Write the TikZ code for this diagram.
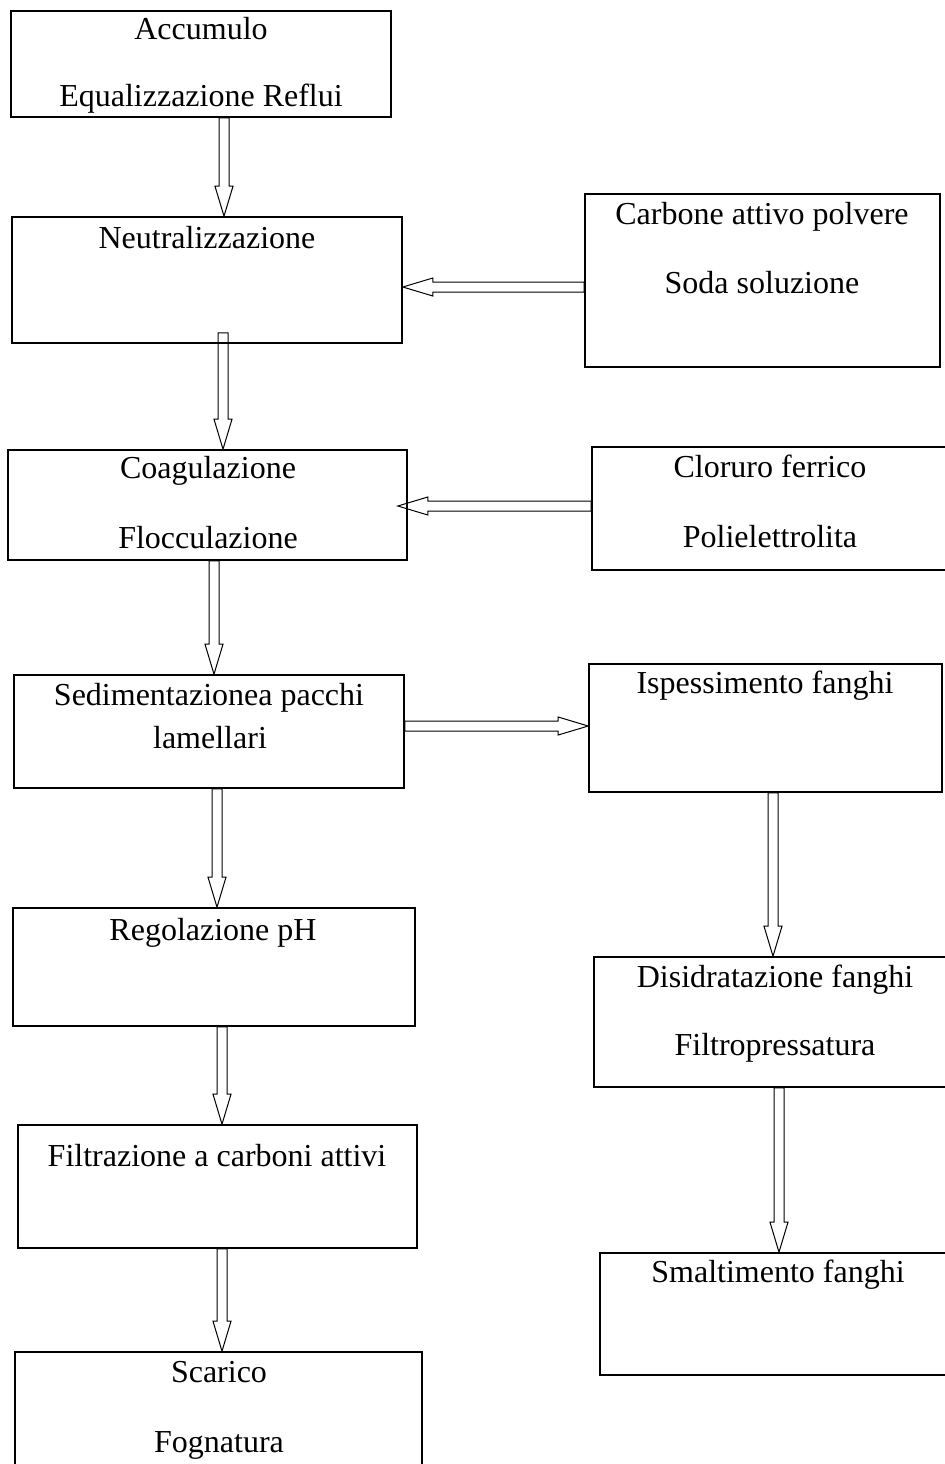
\documentclass[tikz,border=0pt]{standalone}
\usepackage{fontspec}
\setmainfont{Liberation Serif}
\usetikzlibrary{calc}
\tikzset{font=\fontsize{16}{19}\selectfont}
\tikzset{
	box/.style={draw, line width=0.8pt, inner sep=0pt},
	txt/.style={anchor=base, inner sep=0pt},
	flow/.style={draw, line width=0.5pt, to path={
		($(\tikztostart)!2.5pt!90:(\tikztotarget)$)
		-- ($(\tikztotarget)!15pt!(\tikztostart)!2.5pt!90:(\tikztotarget)$)
		-- ($(\tikztotarget)!15pt!(\tikztostart)!4.5pt!90:(\tikztotarget)$)
		-- (\tikztotarget)
		-- ($(\tikztotarget)!15pt!(\tikztostart)!4.5pt!-90:(\tikztotarget)$)
		-- ($(\tikztotarget)!15pt!(\tikztostart)!2.5pt!-90:(\tikztotarget)$)
		-- ($(\tikztostart)!2.5pt!-90:(\tikztotarget)$) -- cycle}},
}

\begin{document}
\begin{tikzpicture}[x=0.5pt, y=-0.5pt]
	\useasboundingbox (0, 0) rectangle (944, 1464);

	\node[box, minimum width=190pt,   minimum height=53pt  ] (accumulo) at (201, 64)     {};
	\node[box, minimum width=195pt,   minimum height=63pt  ] (neutral)  at (207, 280)    {};
	\node[box, minimum width=177.5pt, minimum height=86.5pt] (carbone)  at (762.5, 280.5) {};
	\node[box, minimum width=199.5pt, minimum height=55pt  ] (coagul)   at (207.5, 505)  {};
	\node[box, minimum width=177.5pt, minimum height=61.5pt] (cloruro)  at (769.5, 508.5) {};
	\node[box, minimum width=195pt,   minimum height=56.5pt] (sediment) at (209, 731.5)  {};
	\node[box, minimum width=176.5pt, minimum height=64pt  ] (ispess)   at (765.5, 728)  {};
	\node[box, minimum width=201pt,   minimum height=59pt  ] (regol)    at (214, 967)    {};
	\node[box, minimum width=180.5pt, minimum height=65pt  ] (disidrat) at (774.5, 1022) {};
	\node[box, minimum width=199.5pt, minimum height=61.5pt] (filtraz)  at (217.5, 1186.5) {};
	\node[box, minimum width=178pt,   minimum height=61pt  ] (smaltim)  at (778, 1314)   {};
	\node[box, minimum width=203.5pt, minimum height=64pt  ] (scarico)  at (218.5, 1416) {};

	\node[txt] (accumuloA) at (201, 39)   {Accumulo};
	\node[txt] (accumuloB) at (201, 106)  {Equalizzazione Reflui};
	\node[txt] (neutralA)  at (207, 248)  {Neutralizzazione};
	\node[txt] (carboneA)  at (762, 224)  {Carbone attivo polvere};
	\node[txt] (carboneB)  at (762, 293)  {Soda soluzione};
	\node[txt] (coagulA)   at (208, 478)  {Coagulazione};
	\node[txt] (coagulB)   at (208, 548)  {Flocculazione};
	\node[txt] (cloruroA)  at (770, 477)  {Cloruro ferrico};
	\node[txt] (cloruroB)  at (770, 547)  {Polielettrolita};
	\node[txt] (sedimentA) at (209, 705)  {Sedimentazionea pacchi};
	\node[txt] (sedimentB) at (210, 748)  {lamellari};
	\node[txt] (ispessA)   at (765, 693)  {Ispessimento fanghi};
	\node[txt] (regolA)    at (213, 940)  {Regolazione pH};
	\node[txt] (disidratA) at (775, 987)  {Disidratazione fanghi};
	\node[txt] (disidratB) at (775, 1055) {Filtropressatura};
	\node[txt] (filtrazA)  at (217, 1166) {Filtrazione a carboni attivi};
	\node[txt] (smaltimA)  at (778, 1282) {Smaltimento fanghi};
	\node[txt] (scaricoA)  at (219, 1382) {Scarico};
	\node[txt] (scaricoB)  at (219, 1452) {Fognatura};

	\draw[flow] ([xshift=11.5pt]accumulo.south)            to ([xshift=8.5pt]neutral.north);
	\draw[flow] ([xshift=8pt, yshift=5.5pt]neutral.south)  to ([xshift=7.75pt]coagul.north);
	\draw[flow] ([xshift=3.25pt]coagul.south)              to ([xshift=2.5pt]sediment.north);
	\draw[flow] ([xshift=4pt]sediment.south)               to ([xshift=1.5pt]regol.north);
	\draw[flow] ([xshift=4pt]regol.south)                  to ([xshift=2.25pt]filtraz.north);
	\draw[flow] ([xshift=2.25pt]filtraz.south)             to ([xshift=1.75pt]scarico.north);
	\draw[flow] ([yshift=-3.25pt]carbone.west)             to ([yshift=-3.5pt]neutral.east);
	\draw[flow] ([yshift=1.25pt]cloruro.west)              to ([xshift=-5pt, yshift=-0.5pt]coagul.east);
	\draw[flow] ([yshift=2.75pt]sediment.east)             to ([yshift=1pt]ispess.west);
	\draw[flow] ([xshift=3.75pt]ispess.south)              to ([xshift=-0.75pt]disidrat.north);
	\draw[flow] ([xshift=2.25pt]disidrat.south)            to ([xshift=0.5pt]smaltim.north);
\end{tikzpicture}
\end{document}
